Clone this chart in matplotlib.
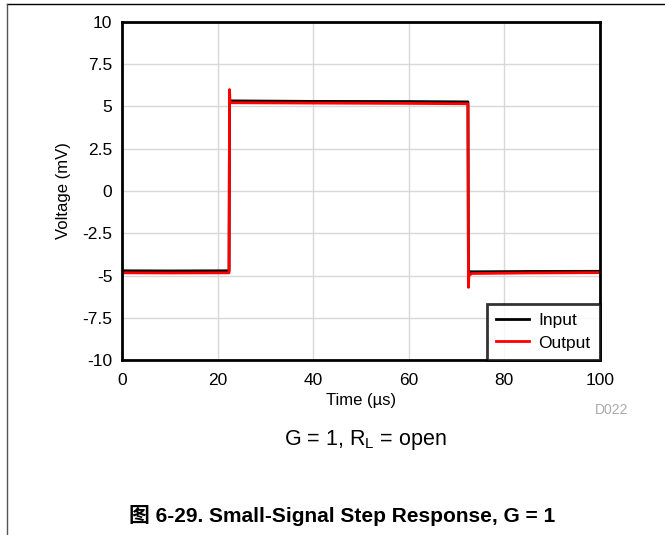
import matplotlib
matplotlib.use("Agg")
from matplotlib import pyplot as plt
from matplotlib.lines import Line2D

# breakpoints of the two traces
input_t = [0, 10, 22.4, 22.5, 23, 40, 60, 72.4, 72.5, 73, 85, 100]
input_v = [-4.72, -4.73, -4.72, 5.33, 5.33, 5.30, 5.29, 5.27, -4.75, -4.78, -4.76, -4.75]

output_t = [0, 10, 22.4, 22.5, 22.6, 22.9, 40, 60, 72.4, 72.5, 72.6, 73.2, 85, 100]
output_v = [-4.84, -4.85, -4.84, 6.0, 5.3, 5.22, 5.20, 5.18, 5.16, -5.7, -5.0, -4.88, -4.85, -4.83]

x_ticks = [0, 20, 40, 60, 80, 100]
y_ticks = [-10, -7.5, -5, -2.5, 0, 2.5, 5, 7.5, 10]
y_labels = ["-10", "-7.5", "-5", "-2.5", "0", "2.5", "5", "7.5", "10"]

plt.rcParams['font.family'] = ['Liberation Sans', 'Noto Sans CJK SC', 'DejaVu Sans']

fig = plt.figure(figsize=(6.65, 5.35), dpi=100)
ax = fig.add_axes([0.1835, 0.327, 0.7185, 0.632])

ax.plot(input_t, input_v, color='black', linewidth=2, label='Input')
ax.plot(output_t, output_v, color='red', linewidth=2, label='Output')

ax.set_xlim(0, 100)
ax.set_ylim(-10, 10)
ax.set_xticks(x_ticks)
ax.set_yticks(y_ticks)
ax.set_yticklabels(y_labels)
ax.tick_params(length=0, labelsize=12.5)
ax.tick_params(axis='x', pad=9)
ax.tick_params(axis='y', pad=7)
ax.grid(True, color='#d8d8d8', linewidth=1)
ax.set_axisbelow(True)
for s in ax.spines.values():
    s.set_linewidth(2)

ax.set_xlabel("Time (\u00b5s)", fontsize=12, labelpad=4)
ax.set_ylabel("Voltage (mV)", fontsize=12, labelpad=8)

leg = ax.legend(loc='lower right', fontsize=12.5, frameon=True, fancybox=False,
                borderaxespad=0, handlelength=1.9, handletextpad=0.5,
                borderpad=0.55, labelspacing=0.4)
leg.get_frame().set_edgecolor('black')
leg.get_frame().set_linewidth(2)

fig.text(612 / 665, 1 - 410 / 535, "D022", color='#aaaaaa', fontsize=10, ha='center', va='center')
fig.text(365 / 665, 1 - 440 / 535, "G = 1, R$_\\mathregular{L}$ = open", fontsize=15.5,
         ha='center', va='center')
fig.text(342 / 665, 1 - 515 / 535, "图 6-29. Small-Signal Step Response, G = 1", fontsize=15,
         fontweight='bold', ha='center', va='center')

# page frame lines
fig.add_artist(Line2D([7 / 665, 1], [1 - 4 / 535, 1 - 4 / 535], color='black', linewidth=1))
fig.add_artist(Line2D([7 / 665, 7 / 665], [0, 1 - 4 / 535], color='#555555', linewidth=1))

fig.savefig("out.png", dpi=100)
